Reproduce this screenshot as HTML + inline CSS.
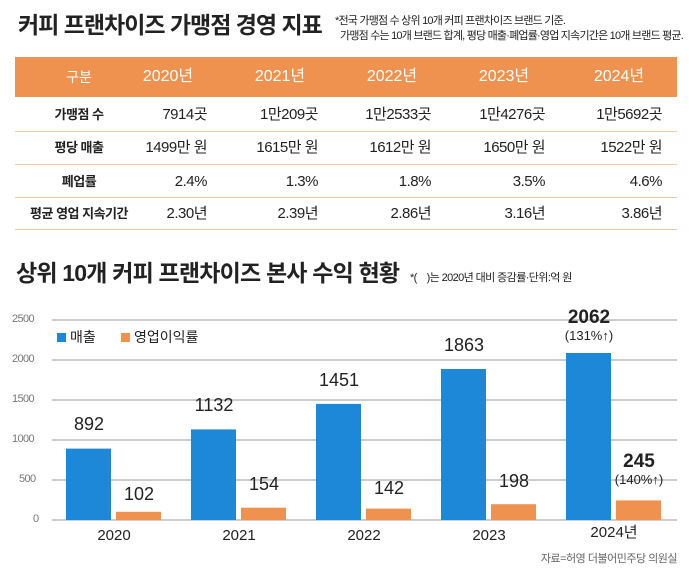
<!DOCTYPE html><html><head><meta charset="utf-8"><style>
body{margin:0;width:689px;height:576px;background:#fff;font-family:"Liberation Sans","Noto Sans CJK KR",sans-serif;position:relative;overflow:hidden;color:#222}
.a{position:absolute;white-space:nowrap;line-height:1.15}
.c{transform:translateX(-50%)}
</style></head><body>
<div class="a" style="left:18px;top:12px;font-size:23px;font-weight:bold;letter-spacing:-1px">커피 프랜차이즈 가맹점 경영 지표</div>
<div class="a" style="left:335px;top:15px;font-size:11px;letter-spacing:-0.8px">*전국 가맹점 수 상위 10개 커피 프랜차이즈 브랜드 기준.</div>
<div class="a" style="left:340px;top:30px;font-size:11px;letter-spacing:-0.8px">가맹점 수는 10개 브랜드 합계, 평당 매출·폐업률·영업 지속기간은 10개 브랜드 평균.</div>
<div class="a" style="left:15px;top:57px;width:662px;height:40px;background:#f0924f"></div>
<svg class="a" style="left:0;top:0" width="689" height="576">
<g stroke="#f6c9a6" stroke-width="1">
<line x1="15" x2="677" y1="131.5" y2="131.5"/><line x1="15" x2="677" y1="164.5" y2="164.5"/><line x1="15" x2="677" y1="197.5" y2="197.5"/><line x1="15" x2="677" y1="229.5" y2="229.5"/>
</g>
<g stroke="#bbb" stroke-width="1.5">
<line x1="52" x2="677" y1="320" y2="320"/><line x1="52" x2="677" y1="360" y2="360"/><line x1="52" x2="677" y1="400" y2="400"/><line x1="52" x2="677" y1="440" y2="440"/><line x1="52" x2="677" y1="480" y2="480"/><line x1="52" x2="677" y1="520" y2="520"/>
</g>
<g fill="#1e88d8">
<rect x="66" y="448.6" width="45" height="71.4"/><rect x="191" y="429.4" width="45" height="90.6"/><rect x="316" y="403.9" width="45" height="116.1"/><rect x="441" y="369" width="45" height="151"/><rect x="566" y="353" width="45" height="167"/>
<rect x="57" y="333" width="9" height="9"/>
</g>
<g fill="#f0924f">
<rect x="116" y="511.8" width="45" height="8.2"/><rect x="241" y="507.7" width="45" height="12.3"/><rect x="366" y="508.6" width="45" height="11.4"/><rect x="491" y="504.2" width="45" height="15.8"/><rect x="616" y="500.4" width="45" height="19.6"/>
<rect x="121" y="333" width="9" height="9"/>
</g>
</svg>
<div style="font-size:14px;color:#fff">
<div class="a c" style="left:79px;top:69px">구분</div>
<div class="a c" style="left:168px;top:68px;font-size:16px">2020년</div>
<div class="a c" style="left:280px;top:68px;font-size:16px">2021년</div>
<div class="a c" style="left:392px;top:68px;font-size:16px">2022년</div>
<div class="a c" style="left:504px;top:68px;font-size:16px">2023년</div>
<div class="a c" style="left:619px;top:68px;font-size:16px">2024년</div>
</div>
<div style="font-size:15px;letter-spacing:-0.5px">
<div class="a c" style="left:79px;top:108px;font-size:13px;font-weight:bold">가맹점 수</div>
<div class="a" style="right:482px;top:106px">7914곳</div><div class="a" style="right:371px;top:106px">1만209곳</div><div class="a" style="right:258px;top:106px">1만2533곳</div><div class="a" style="right:144px;top:106px">1만4276곳</div><div class="a" style="right:27px;top:106px">1만5692곳</div>
<div class="a c" style="left:79px;top:141px;font-size:13px;font-weight:bold">평당 매출</div>
<div class="a" style="right:482px;top:139px">1499만 원</div><div class="a" style="right:371px;top:139px">1615만 원</div><div class="a" style="right:258px;top:139px">1612만 원</div><div class="a" style="right:144px;top:139px">1650만 원</div><div class="a" style="right:27px;top:139px">1522만 원</div>
<div class="a c" style="left:79px;top:175px;font-size:13px;font-weight:bold">폐업률</div>
<div class="a" style="right:482px;top:173px">2.4%</div><div class="a" style="right:371px;top:173px">1.3%</div><div class="a" style="right:258px;top:173px">1.8%</div><div class="a" style="right:144px;top:173px">3.5%</div><div class="a" style="right:27px;top:173px">4.6%</div>
<div class="a c" style="left:79px;top:207px;font-size:13px;font-weight:bold">평균 영업 지속기간</div>
<div class="a" style="right:482px;top:205px">2.30년</div><div class="a" style="right:371px;top:205px">2.39년</div><div class="a" style="right:258px;top:205px">2.86년</div><div class="a" style="right:144px;top:205px">3.16년</div><div class="a" style="right:27px;top:205px">3.86년</div>
</div>
<div class="a" style="left:16px;top:260px;font-size:23px;font-weight:bold;letter-spacing:-0.8px">상위 10개 커피 프랜차이즈 본사 수익 현황</div>
<div class="a" style="left:410px;top:272px;font-size:11px;letter-spacing:-0.6px">*(&nbsp;&nbsp;&nbsp;&nbsp;)는 2020년 대비 증감률·단위:억 원</div>
<div style="font-size:11px;color:#777;letter-spacing:-0.6px">
<div class="a" style="left:12px;top:313px">2500</div><div class="a" style="left:12px;top:353px">2000</div><div class="a" style="left:12px;top:393px">1500</div><div class="a" style="left:12px;top:433px">1000</div><div class="a" style="left:19px;top:473px">500</div><div class="a" style="left:33px;top:513px">0</div>
</div>
<div class="a" style="left:70px;top:329px;font-size:14px">매출</div>
<div class="a" style="left:134px;top:329px;font-size:14px">영업이익률</div>
<div style="font-size:18px">
<div class="a c" style="left:89px;top:414px">892</div><div class="a c" style="left:214px;top:395px">1132</div><div class="a c" style="left:339px;top:370px">1451</div><div class="a c" style="left:464px;top:335px">1863</div>
<div class="a c" style="left:139px;top:484px">102</div><div class="a c" style="left:264px;top:474px">154</div><div class="a c" style="left:389px;top:478px">142</div><div class="a c" style="left:514px;top:471px">198</div>
</div>
<div class="a c" style="left:589px;top:307px;font-size:19px;font-weight:bold">2062</div>
<div class="a c" style="left:589px;top:329px;font-size:13px">(131%↑)</div>
<div class="a c" style="left:639px;top:451px;font-size:19px;font-weight:bold">245</div>
<div class="a c" style="left:639px;top:473px;font-size:13px">(140%↑)</div>
<div style="font-size:15px">
<div class="a c" style="left:114px;top:527px">2020</div><div class="a c" style="left:239px;top:527px">2021</div><div class="a c" style="left:364px;top:527px">2022</div><div class="a c" style="left:489px;top:527px">2023</div><div class="a c" style="left:614px;top:525px;line-height:1">2024년</div>
</div>
<div class="a" style="right:12px;top:553px;font-size:11px;color:#666;letter-spacing:-0.5px">자료=허영 더불어민주당 의원실</div>
</body></html>
